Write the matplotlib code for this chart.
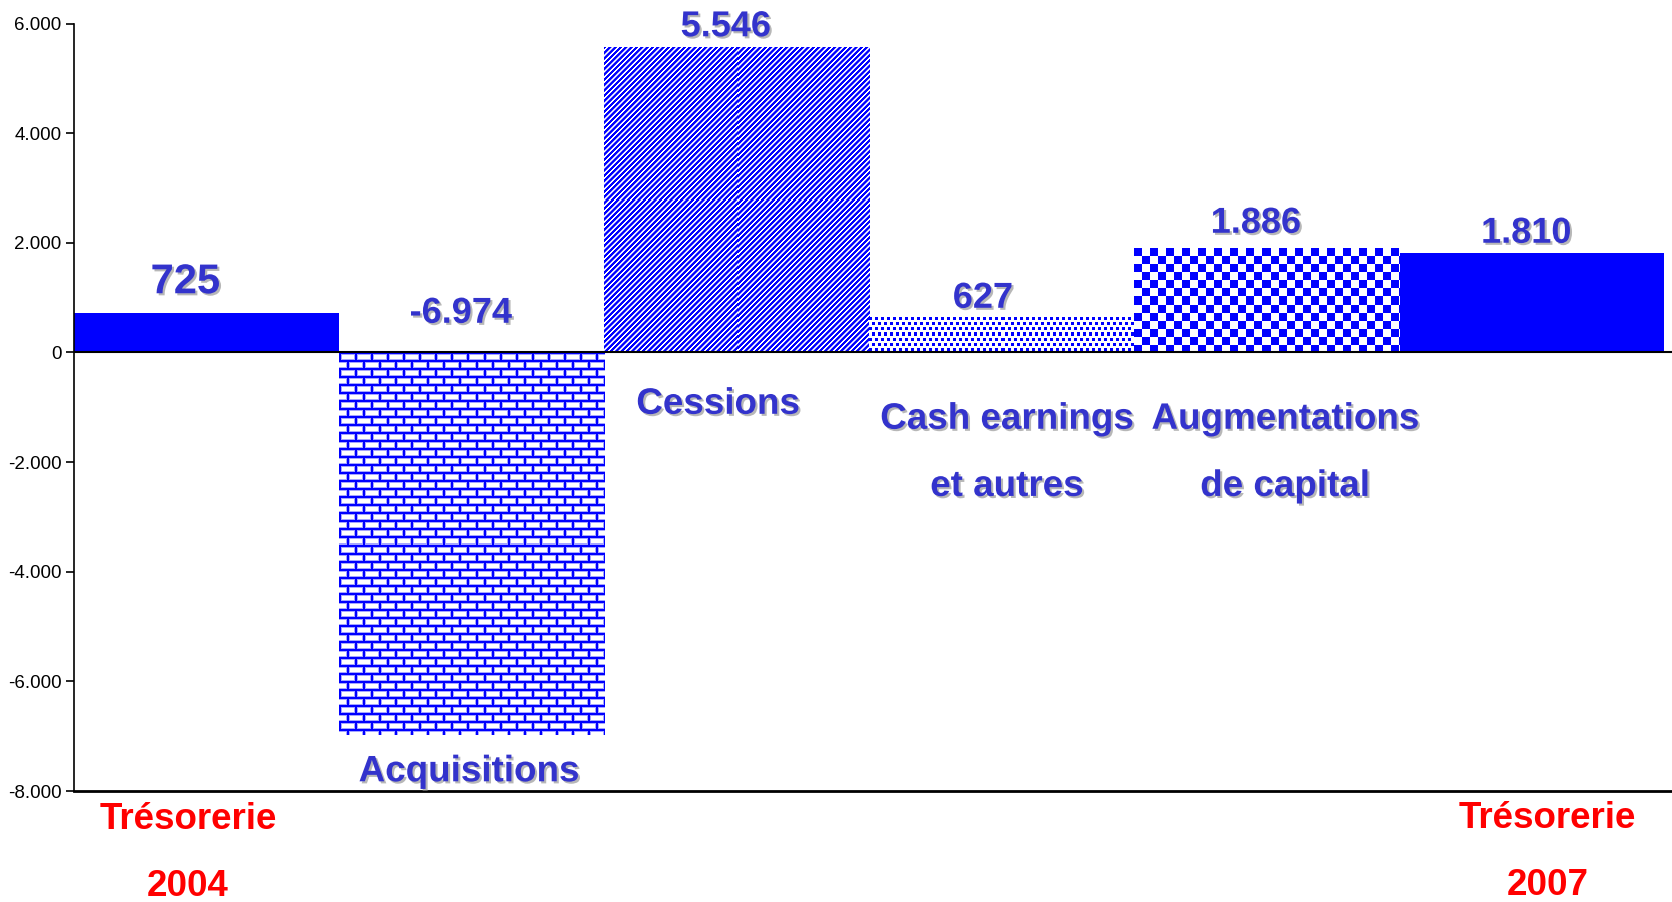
import numpy as np
import matplotlib.pyplot as plt
import matplotlib.patheffects as pe
from matplotlib.ticker import FuncFormatter

plt.rcParams['font.family'] = ['Liberation Sans', 'DejaVu Sans']

# data
values = [725, -6974, 5546, 627, 1886, 1810]
value_labels = ['725', '-6.974', '5.546', '627', '1.886', '1.810']
categories = [['Trésorerie', '2004'], ['Acquisitions'], ['Cessions'],
              ['Cash earnings', 'et autres'], ['Augmentations', 'de capital'],
              ['Trésorerie', '2007']]
yticks = [-8000, -6000, -4000, -2000, 0, 2000, 4000, 6000]

# style
patterns = ['solid', 'brick', 'diag', 'dots', 'check', 'solid']
blue_txt = '#3333cc'
cat_colors = ['red', blue_txt, blue_txt, blue_txt, blue_txt, 'red']
val_dx = [-0.08, -0.04, -0.04, -0.07, -0.04, -0.02]
val_dy = [555, 714, 394, 361, 470, 364]
val_size = [30, 26, 26, 26, 26, 26]
cat_pos = [(0.43, -8516), (1.49, -7650), (2.43, -946), (3.52, -1219),
           (4.57, -1219), (5.56, -8498)]
line_step = -1225


def texture(kind, w, h):
    Y, X = np.mgrid[0:h, 0:w]
    if kind == 'brick':
        row = Y // 8
        dy = Y % 8
        dx = (X + (row % 2) * 8) % 16
        t = np.where((dy < 2) | (dx < 2), 1.0, 0.0)
        t = np.where((t == 0) & ((dy == 2) | (dy == 7) | (dx == 2) | (dx == 15)), 0.35, t)
    elif kind == 'diag':
        t = 0.5 + 0.5 * np.cos(2 * np.pi * (X + Y) / 5.33)
        t = np.clip((t - 0.35) * 2.5 + 0.5, 0, 1)
    elif kind == 'dots':
        row = Y // 5
        t = (((X + 3 * row) % 6 < 3) & (Y % 5 < 3)).astype(float)
    else:
        t = ((X // 8 + Y // 8) % 2 == 0).astype(float)
    img = np.ones((h, w, 3))
    img[..., 0] = 1 - t
    img[..., 1] = 1 - t
    return img


fig = plt.figure(figsize=(16.72, 9.02), dpi=100)
ax = fig.add_axes([74 / 1672, 1 - 791 / 902, 1 - 74 / 1672, (791 - 23.5) / 902])
ax.set_xlim(0, 6.03)
ax.set_ylim(-8000, 6000)

x = np.arange(len(values))
bars = ax.bar(x, values, width=1, align='edge', color='#0000ff', linewidth=0, zorder=2)

for bar, kind in zip(bars, patterns):
    if kind == 'solid':
        continue
    bar.set_facecolor('none')
    x0, x1 = bar.get_x(), bar.get_x() + bar.get_width()
    y0, y1 = sorted([bar.get_y(), bar.get_y() + bar.get_height()])
    p = ax.transData.transform([[x0, y0], [x1, y1]])
    w = int(round(abs(p[1, 0] - p[0, 0])))
    h = int(round(abs(p[1, 1] - p[0, 1])))
    ax.imshow(texture(kind, w, h), extent=[x0, x1, y0, y1], aspect='auto',
              interpolation='nearest', zorder=2)

ax.set_xlim(0, 6.03)
ax.set_ylim(-8000, 6000)
ax.axhline(0, color='black', lw=1.5, zorder=3)

shadow = [pe.SimplePatchShadow(offset=(1.5, -1.5), shadow_rgbFace='#888888', alpha=0.6), pe.Normal()]

for i, v in enumerate(values):
    ax.text(i + 0.5 + val_dx[i], max(v, 0) + val_dy[i], value_labels[i],
            ha='center', va='center', fontsize=val_size[i], fontweight='bold',
            color=blue_txt, path_effects=shadow, zorder=5)

for i, lines in enumerate(categories):
    cx, cy = cat_pos[i]
    for j, line in enumerate(lines):
        ax.text(cx, cy + j * line_step, line, ha='center', va='center',
                fontsize=26.5, fontweight='bold', color=cat_colors[i],
                path_effects=shadow if cat_colors[i] != 'red' else None,
                clip_on=False, zorder=5)

ax.spines['top'].set_visible(False)
ax.spines['right'].set_visible(False)
ax.spines['left'].set_linewidth(1.2)
ax.spines['bottom'].set_linewidth(2)
ax.set_xticks([])
ax.set_yticks(yticks)
ax.yaxis.set_major_formatter(FuncFormatter(lambda v, pos: f'{int(v):,}'.replace(',', '.')))
ax.tick_params(axis='y', labelsize=13.5, length=6, width=1.2, pad=3)

fig.savefig('out.png', dpi=100)
